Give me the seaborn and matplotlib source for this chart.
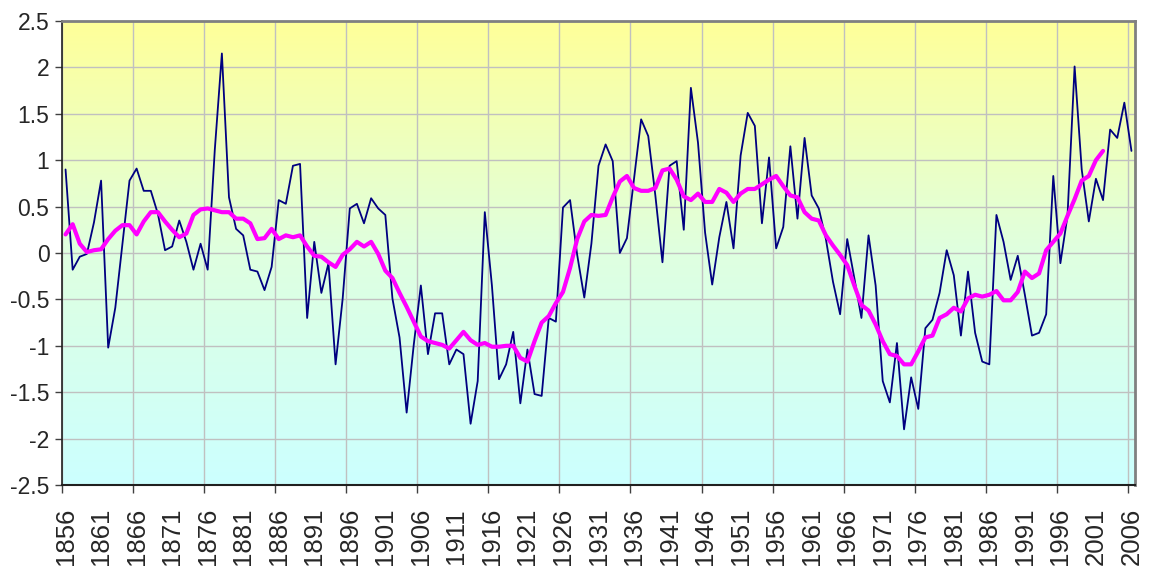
import numpy as np
import pandas as pd
import matplotlib
matplotlib.use("Agg")
import matplotlib.pyplot as plt
import seaborn as sns
from matplotlib.colors import LinearSegmentedColormap
from matplotlib.ticker import FixedLocator, FuncFormatter

# annual index, 1856-2006
years = list(range(1856, 2007))
annual = [
    0.90, -0.18, -0.04, -0.01, 0.33, 0.78, -1.02, -0.59, 0.10, 0.78,
    0.91, 0.67, 0.67, 0.42, 0.03, 0.07, 0.35, 0.12, -0.18, 0.10,
    -0.18, 1.11, 2.15, 0.60, 0.26, 0.19, -0.18, -0.20, -0.40, -0.15,
    0.57, 0.53, 0.94, 0.96, -0.70, 0.12, -0.43, -0.11, -1.20, -0.49,
    0.48, 0.53, 0.32, 0.59, 0.48, 0.41, -0.49, -0.91, -1.72, -0.99,
    -0.35, -1.09, -0.65, -0.65, -1.20, -1.04, -1.09, -1.84, -1.38, 0.44,
    -0.35, -1.36, -1.20, -0.85, -1.62, -1.04, -1.52, -1.54, -0.70, -0.74,
    0.49, 0.57, -0.02, -0.48, 0.10, 0.94, 1.17, 0.99, 0.00, 0.16,
    0.80, 1.44, 1.26, 0.62, -0.10, 0.94, 0.99, 0.25, 1.78, 1.19,
    0.22, -0.34, 0.17, 0.55, 0.05, 1.05, 1.51, 1.37, 0.32, 1.03,
    0.05, 0.28, 1.15, 0.37, 1.24, 0.62, 0.48, 0.15, -0.31, -0.66,
    0.15, -0.27, -0.70, 0.19, -0.35, -1.38, -1.61, -0.97, -1.90, -1.34,
    -1.68, -0.81, -0.72, -0.43, 0.03, -0.24, -0.89, -0.20, -0.86, -1.17,
    -1.20, 0.41, 0.12, -0.29, -0.03, -0.45, -0.89, -0.86, -0.66, 0.83,
    -0.11, 0.40, 2.01, 0.90, 0.34, 0.80, 0.57, 1.33, 1.24, 1.62,
    1.10,
]

# moving average, 1856-2002
ma_years = list(range(1856, 2003))
moving_avg = [
    0.20, 0.31, 0.10, 0.01, 0.03, 0.04, 0.15, 0.24, 0.30, 0.30,
    0.20, 0.34, 0.44, 0.44, 0.34, 0.25, 0.17, 0.21, 0.41, 0.47,
    0.48, 0.46, 0.44, 0.44, 0.37, 0.37, 0.32, 0.15, 0.16, 0.26,
    0.15, 0.19, 0.17, 0.19, 0.07, -0.03, -0.04, -0.10, -0.15, -0.02,
    0.04, 0.12, 0.07, 0.12, -0.01, -0.19, -0.27, -0.43, -0.58, -0.74,
    -0.90, -0.95, -0.97, -0.99, -1.03, -0.94, -0.85, -0.94, -0.99, -0.97,
    -1.01, -1.01, -1.00, -1.00, -1.13, -1.17, -0.95, -0.75, -0.68, -0.54,
    -0.42, -0.16, 0.15, 0.34, 0.41, 0.40, 0.41, 0.60, 0.77, 0.83,
    0.70, 0.67, 0.67, 0.70, 0.89, 0.91, 0.79, 0.61, 0.57, 0.64,
    0.55, 0.55, 0.69, 0.65, 0.55, 0.64, 0.69, 0.69, 0.74, 0.79,
    0.83, 0.72, 0.62, 0.60, 0.44, 0.37, 0.35, 0.19, 0.08, -0.02,
    -0.13, -0.35, -0.56, -0.62, -0.77, -0.95, -1.09, -1.11, -1.20, -1.20,
    -1.06, -0.91, -0.89, -0.70, -0.66, -0.59, -0.63, -0.49, -0.45, -0.47,
    -0.45, -0.41, -0.51, -0.51, -0.42, -0.20, -0.27, -0.22, 0.03, 0.12,
    0.21, 0.40, 0.58, 0.78, 0.83, 1.00, 1.10,
]

label_years = list(range(1856, 2007, 5))
y_ticks = [-2.5, -2, -1.5, -1, -0.5, 0, 0.5, 1, 1.5, 2, 2.5]

df_annual = pd.DataFrame({"year": years, "value": annual})
df_ma = pd.DataFrame({"year": ma_years, "value": moving_avg})

sns.set_style("white")
plt.rcParams["font.family"] = ["Liberation Sans", "DejaVu Sans"]
plt.rcParams["axes.unicode_minus"] = False

fig = plt.figure(figsize=(11.52, 5.70), dpi=100)
ax = fig.add_axes([62 / 1152, 1 - 485 / 570, (1135 - 62) / 1152, (485 - 21) / 570])

# yellow -> cyan background gradient
cmap = LinearSegmentedColormap.from_list("bg", ["#CCFFFF", "#DFFFE0", "#FFFF99"])
grad = np.linspace(0, 1, 256).reshape(-1, 1)
ax.imshow(grad, extent=[0, 1, 0, 1], transform=ax.transAxes, cmap=cmap,
          origin="lower", aspect="auto", zorder=0)

sns.lineplot(data=df_annual, x="year", y="value", color="#000080",
             linewidth=1.3, ax=ax, zorder=3)
sns.lineplot(data=df_ma, x="year", y="value", color="#FF00FF",
             linewidth=3.0, ax=ax, zorder=4)

ax.set_xlim(1855.5, 2006.5)
ax.set_ylim(-2.5, 2.5)
ax.set_xlabel("")
ax.set_ylabel("")

# labels every 5 years, ticks/gridlines every 10 at category boundaries
ax.xaxis.set_major_locator(FixedLocator(label_years))
ax.set_xticklabels([str(y) for y in label_years], rotation=90)
ax.xaxis.set_minor_locator(FixedLocator([1855.5 + 10 * k for k in range(16)]))
ax.tick_params(axis="x", which="major", length=0, pad=16.5, labelsize=18.5)
ax.tick_params(axis="x", which="minor", length=6, width=1, color="#404040",
               direction="out", bottom=True)
ax.set_yticks(y_ticks)
ax.yaxis.set_major_formatter(FuncFormatter(lambda v, p: "%g" % v))
ax.tick_params(axis="y", length=5, width=1, color="#404040",
               direction="out", left=True, labelsize=16.5, pad=4)

ax.set_axisbelow(True)
ax.grid(False)
ax.grid(True, axis="y", which="major", color="#C0C0C0", linewidth=1)
ax.grid(True, axis="x", which="minor", color="#C0C0C0", linewidth=1)

ax.spines["left"].set_color("#202020")
ax.spines["bottom"].set_color("#202020")
ax.spines["top"].set_color("#808080")
ax.spines["right"].set_color("#808080")
ax.spines["left"].set_linewidth(1.2)
ax.spines["bottom"].set_linewidth(1.5)
ax.spines["top"].set_linewidth(2)
ax.spines["right"].set_linewidth(2)

fig.savefig("out.png", dpi=100)
